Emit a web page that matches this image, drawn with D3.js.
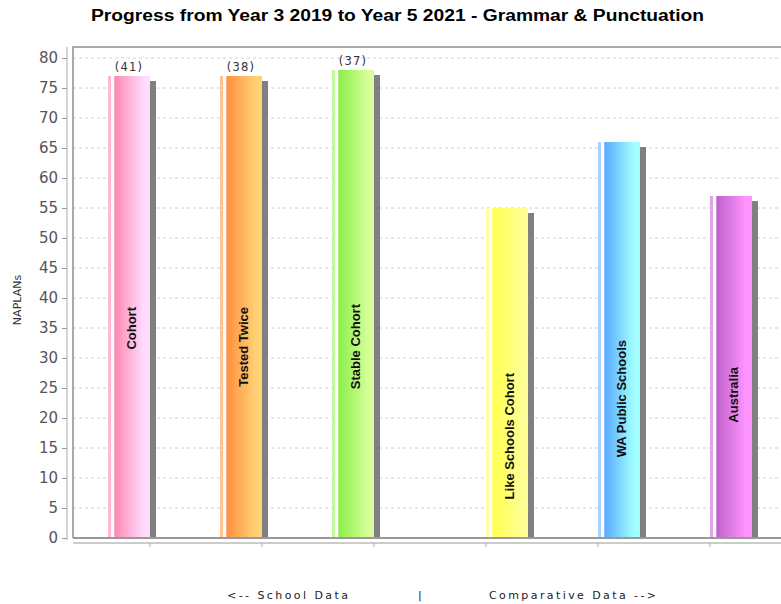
<!DOCTYPE html>
<html>
<head>
<meta charset="utf-8">
<script src="https://cdn.jsdelivr.net/npm/d3@7.9.0/dist/d3.min.js"></script>
<style>
  html, body { margin: 0; padding: 0; background: #fff; }
  svg { display: block; }
</style>
</head>
<body>
<svg id="chart" width="781" height="604"></svg>
<script>
// chart data
const categories = ['Cohort', 'Tested Twice', 'Stable Cohort', 'Like Schools Cohort', 'WA Public Schools', 'Australia'];
const values = [77, 77, 78, 55, 66, 57];
const groups = ['School', 'School', 'School', 'Comparative', 'Comparative', 'Comparative'];
const counts = ['(41)', '(38)', '(37)', '', '', ''];
const yTickValues = [0, 5, 10, 15, 20, 25, 30, 35, 40, 45, 50, 55, 60, 65, 70, 75, 80];

// colours (base -> light) per bar
const baseColors = ['#ff88b2', '#ff9040', '#8cee48', '#ffff50', '#5aaaff', '#c062cc'];
const lightColors = ['#ffdcff', '#ffd274', '#d6ff9a', '#ffff96', '#a2ffff', '#ff94ff'];
const stripColors = ['#ffb8cc', '#ffc294', '#c4f8a0', '#ffffa8', '#a8d2ff', '#dca8e4'];

const svg = d3.select('#chart');
const plot = { left: 73, top: 47, bottom: 538, right: 790 };

const x = d3.scaleBand().domain(categories).range([94, 766]).paddingInner(0).paddingOuter(0);
const xg = d3.scaleBand().domain(['School', 'Comparative'])
    .range([x.bandwidth() * 0.125, x.bandwidth() * 0.875]);
const y = d3.scaleLinear().domain([0, 80]).range([plot.bottom, 58]);

// gradients
const defs = svg.append('defs');
categories.forEach((c, i) => {
    const g = defs.append('linearGradient').attr('id', 'grad' + i)
        .attr('x1', '0%').attr('x2', '100%').attr('y1', '0%').attr('y2', '0%');
    [[0, stripColors[i]], [0.07, stripColors[i]], [0.075, '#fff6f8'], [0.14, '#ffffff'],
     [0.16, baseColors[i]], [0.86, lightColors[i]], [1, lightColors[i]]]
        .forEach(([o, col]) => g.append('stop').attr('offset', o).attr('stop-color', col));
});
defs.append('clipPath').attr('id', 'plotclip').append('rect')
    .attr('x', plot.left).attr('y', plot.top).attr('width', plot.right - plot.left).attr('height', plot.bottom - plot.top);

// title
svg.append('text')
    .attr('x', 91).attr('y', 21)
    .attr('textLength', 613).attr('lengthAdjust', 'spacingAndGlyphs')
    .style('font', 'bold 16px "Liberation Sans", Arial, sans-serif')
    .text('Progress from Year 3 2019 to Year 5 2021 - Grammar & Punctuation');

// gridlines
svg.append('g').selectAll('line').data(yTickValues.filter(d => d > 0)).join('line')
    .attr('x1', plot.left).attr('x2', plot.right)
    .attr('y1', d => y(d)).attr('y2', d => y(d))
    .attr('stroke', '#d0d0d0').attr('stroke-dasharray', '3,3');

// y axis
const yAxis = svg.append('g').attr('transform', 'translate(67,0)')
    .call(d3.axisLeft(y).tickValues(yTickValues).tickSize(5).tickPadding(4));
yAxis.select('.domain').attr('stroke', '#aaa').attr('d', `M0,${plot.top}V${plot.bottom + 2}`);
yAxis.selectAll('.tick line').attr('stroke', '#999');
yAxis.selectAll('.tick text')
    .style('font', '15px "DejaVu Sans", Verdana, sans-serif').attr('fill', '#555');

svg.append('text')
    .attr('transform', `translate(21,300) rotate(-90)`)
    .attr('text-anchor', 'middle')
    .style('font', '11px "DejaVu Sans", sans-serif').attr('fill', '#333')
    .text('NAPLANs');

// bars
const bars = svg.append('g').attr('clip-path', 'url(#plotclip)');
categories.forEach((c, i) => {
    const bx = x(c) + xg(groups[i]);
    const bw = xg.bandwidth();
    const by = y(values[i]);
    bars.append('rect')
        .attr('x', bx + 6).attr('y', by + 5)
        .attr('width', bw).attr('height', plot.bottom - by)
        .attr('fill', '#808080');
    bars.append('rect')
        .attr('x', bx).attr('y', by)
        .attr('width', bw).attr('height', plot.bottom - by)
        .attr('fill', `url(#grad${i})`);
    // category label inside bar
    const cx = bx + bw / 2 + 2;
    const cy = (by + plot.bottom) / 2;
    bars.append('text')
        .attr('transform', `translate(${cx},${cy}) rotate(-90)`)
        .attr('text-anchor', 'end')
        .attr('dy', '0.35em')
        .style('font', 'bold 13px "Liberation Sans", Arial, sans-serif')
        .attr('fill', '#111')
        .text(c);
    if (counts[i]) {
        svg.append('text')
            .attr('x', bx + bw / 2).attr('y', by - 5)
            .attr('text-anchor', 'middle')
            .style('font', '11.5px "DejaVu Sans", sans-serif')
            .style('letter-spacing', '1.2px')
            .attr('fill', '#333')
            .text(counts[i]);
    }
});

// plot frame
svg.append('path')
    .attr('d', `M${plot.left},${plot.bottom}V${plot.top}H${plot.right}`)
    .attr('fill', 'none').attr('stroke', '#aaa').attr('stroke-width', 2);
svg.append('line')
    .attr('x1', plot.left).attr('x2', plot.right)
    .attr('y1', plot.bottom).attr('y2', plot.bottom)
    .attr('stroke', '#999').attr('stroke-width', 2);

// category axis
const xAxis = svg.append('g').attr('transform', `translate(0,${plot.bottom + 5})`)
    .call(d3.axisBottom(x).tickSize(4).tickFormat(''));
xAxis.select('.domain').attr('stroke', '#ccc').attr('stroke-width', 2)
    .attr('d', `M${plot.left},0H${plot.right}`);
xAxis.selectAll('.tick line').attr('stroke', '#aaa');

// footer
const foot = svg.append('g')
    .style('font', '11px "DejaVu Sans", sans-serif')
    .attr('fill', '#222');
foot.append('text').attr('x', 227).attr('y', 599)
    .attr('textLength', 121).attr('lengthAdjust', 'spacing').text('<--  School Data');
foot.append('text').attr('x', 418).attr('y', 599).text('|');
foot.append('text').attr('x', 489).attr('y', 599)
    .attr('textLength', 167).attr('lengthAdjust', 'spacing').text('Comparative Data -->');
</script>
</body>
</html>
